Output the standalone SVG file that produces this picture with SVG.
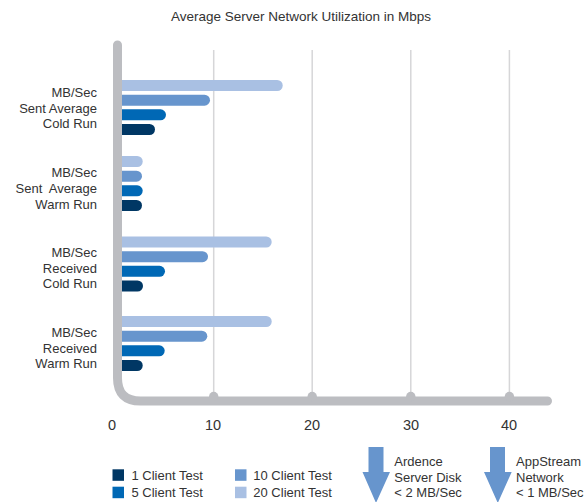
<svg xmlns="http://www.w3.org/2000/svg" width="588" height="502" viewBox="0 0 588 502">
<style>
text{font-family:"Liberation Sans",Arial,sans-serif;fill:#333;font-size:13px}
.lbl{text-anchor:end}
.tick{font-size:14.5px;text-anchor:middle}
.grid{stroke:#d6d6d8;stroke-width:1.5;fill:none}
.c1{fill:#003764}.c5{fill:#0068b5}.c10{fill:#6795cd}.c20{fill:#a9c0e3}
.arrow{fill:#6795cd}
.bump{fill:#bcbdc1}
</style>
<rect width="588" height="502" fill="#fff"/>
<text id="title" x="301" y="21" text-anchor="middle" style="font-size:13.5px">Average Server Network Utilization in Mbps</text>
<g id="grid">
<line class="grid" x1="213.7" y1="50" x2="213.7" y2="397"/>
<line class="grid" x1="312.2" y1="50" x2="312.2" y2="397"/>
<line class="grid" x1="410.8" y1="50" x2="410.8" y2="397"/>
<line class="grid" x1="509.4" y1="50" x2="509.4" y2="397"/>
</g>
<g id="sent-cold">
<rect class="c20" x="114" y="80" width="168.7" height="11" rx="5.5"/>
<rect class="c10" x="114" y="94.7" width="96" height="11" rx="5.5"/>
<rect class="c5" x="114" y="109.3" width="52" height="11" rx="5.5"/>
<rect class="c1" x="114" y="124" width="41" height="11" rx="5.5"/>
<text class="lbl" x="97" y="96.7">MB/Sec</text>
<text class="lbl" x="97" y="112.5">Sent Average</text>
<text class="lbl" x="97" y="128.3">Cold Run</text>
</g>
<g id="sent-warm">
<rect class="c20" x="114" y="156" width="28.7" height="11" rx="5.5"/>
<rect class="c10" x="114" y="170.7" width="28" height="11" rx="5.5"/>
<rect class="c5" x="114" y="185.3" width="28.7" height="11" rx="5.5"/>
<rect class="c1" x="114" y="200" width="28" height="11" rx="5.5"/>
<text class="lbl" x="97" y="177.3">MB/Sec</text>
<text class="lbl" x="97" y="193.3" xml:space="preserve">Sent  Average</text>
<text class="lbl" x="97" y="209">Warm Run</text>
</g>
<g id="received-cold">
<rect class="c20" x="114" y="236.5" width="157.7" height="11" rx="5.5"/>
<rect class="c10" x="114" y="251.2" width="94" height="11" rx="5.5"/>
<rect class="c5" x="114" y="265.8" width="51" height="11" rx="5.5"/>
<rect class="c1" x="114" y="280.5" width="29" height="11" rx="5.5"/>
<text class="lbl" x="97" y="257.3">MB/Sec</text>
<text class="lbl" x="97" y="272.7">Received</text>
<text class="lbl" x="97" y="288.3">Cold Run</text>
</g>
<g id="received-warm">
<rect class="c20" x="114" y="316" width="157.7" height="11" rx="5.5"/>
<rect class="c10" x="114" y="330.7" width="93.3" height="11" rx="5.5"/>
<rect class="c5" x="114" y="345.3" width="50.7" height="11" rx="5.5"/>
<rect class="c1" x="114" y="360" width="28.7" height="11" rx="5.5"/>
<text class="lbl" x="97" y="337.3">MB/Sec</text>
<text class="lbl" x="97" y="352.7">Received</text>
<text class="lbl" x="97" y="368.3">Warm Run</text>
</g>
<g id="axis">
<path d="M117.5,45 V378 Q117.5,401 140.5,401 H547.5" fill="none" stroke="#bcbdc1" stroke-width="9" stroke-linecap="round"/>
<circle class="bump" cx="213.7" cy="396.5" r="4.7"/>
<circle class="bump" cx="312.2" cy="396.5" r="4.7"/>
<circle class="bump" cx="410.8" cy="396.5" r="4.7"/>
<circle class="bump" cx="509.4" cy="396.5" r="4.7"/>
<text class="tick" x="112" y="429.5">0</text>
<text class="tick" x="213" y="429.5">10</text>
<text class="tick" x="312" y="429.5">20</text>
<text class="tick" x="411" y="429.5">30</text>
<text class="tick" x="509" y="429.5">40</text>
</g>
<g id="legend">
<rect class="c1" x="112.5" y="469.3" width="11.5" height="11.5"/>
<text x="131.5" y="479.5">1 Client Test</text>
<rect class="c5" x="112.5" y="486.7" width="11.5" height="11.5"/>
<text x="131.5" y="497">5 Client Test</text>
<rect class="c10" x="235" y="469.3" width="11.5" height="11.5"/>
<text x="253.3" y="479.5">10 Client Test</text>
<rect class="c20" x="235" y="486.7" width="11.5" height="11.5"/>
<text x="253.3" y="497">20 Client Test</text>
</g>
<g id="ardence">
<polygon class="arrow" points="368.5,447 383.5,447 383.5,472 390,472 376,503 362.5,472 368.5,472"/>
<text x="394.3" y="466">Ardence</text>
<text x="394.3" y="481.7">Server Disk</text>
<text x="394.3" y="497">&lt; 2 MB/Sec</text>
</g>
<g id="appstream">
<polygon class="arrow" points="490,447 505,447 505,472 511.7,472 497.8,503 484,472 490,472"/>
<text x="516" y="466">AppStream</text>
<text x="516" y="481.7">Network</text>
<text x="516" y="497">&lt; 1 MB/Sec</text>
</g>
</svg>
